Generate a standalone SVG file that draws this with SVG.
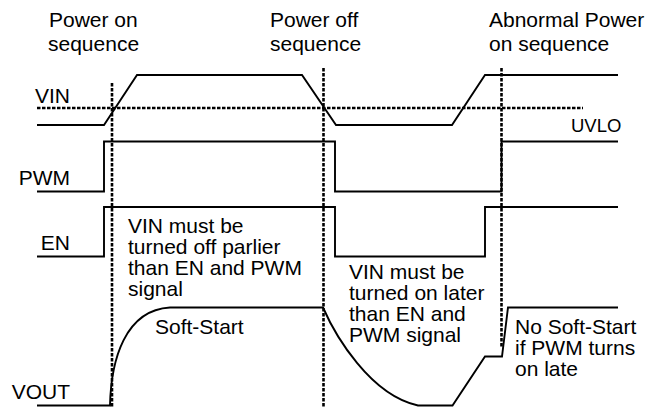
<svg xmlns="http://www.w3.org/2000/svg" width="661" height="407" viewBox="0 0 661 407">
<style>
text{font-family:"Liberation Sans",Arial,sans-serif;font-size:21px;fill:#000}
.w{fill:none;stroke:#000;stroke-width:1.9;stroke-linejoin:miter}
.d{fill:none;stroke:#000;stroke-width:2.6;stroke-dasharray:3.5,1.5}
</style>
<rect width="661" height="407" fill="#fff"/>
<g id="titles">
<text x="49" y="27">Power on</text>
<text x="48" y="51">sequence</text>
<text x="270" y="27">Power off</text>
<text x="270" y="51">sequence</text>
<text x="489" y="27">Abnormal Power</text>
<text x="489" y="51">on sequence</text>
</g>
<g id="guides">
<line class="d" x1="37" y1="108" x2="583" y2="108"/>
<line class="d" x1="112" y1="83" x2="112" y2="407"/>
<line class="d" x1="323.5" y1="68" x2="323.5" y2="407"/>
<line class="d" x1="501.5" y1="68" x2="501.5" y2="347"/>
</g>
<g id="vin">
<path class="w" d="M37,125 H104 L137,75 H302 L336,125 H452 L485,75 H618"/>
<text x="70" y="103" text-anchor="end">VIN</text>
<text x="571" y="132" style="font-size:18.5px">UVLO</text>
</g>
<g id="pwm">
<path class="w" d="M37,191.5 H104 V141.5 H335 V191.5 H501.5 V141.5 H618"/>
<text x="70" y="185" text-anchor="end">PWM</text>
</g>
<g id="en">
<path class="w" d="M37,256.5 H104 V207 H335 V256.5 H485 V207 H618"/>
<text x="70" y="250" text-anchor="end">EN</text>
</g>
<g id="vout">
<path class="w" d="M37,405.5 H110 C111,360 125,310 170,307.5 H323 C335,335 370,395 418,405.5 H452.5 L485,356.5 H502 L508,307.5 H618"/>
<text x="70" y="399" text-anchor="end">VOUT</text>
</g>
<g id="notes">
<text x="128" y="233">VIN must be</text>
<text x="128" y="254">turned off parlier</text>
<text x="128" y="275">than EN and PWM</text>
<text x="128" y="296">signal</text>
<text x="155" y="334">Soft-Start</text>
<text x="349" y="279">VIN must be</text>
<text x="349" y="300">turned on later</text>
<text x="349" y="321">than EN and</text>
<text x="349" y="342">PWM signal</text>
<text x="515" y="334">No Soft-Start</text>
<text x="515" y="355">if PWM turns</text>
<text x="515" y="376">on late</text>
</g>
</svg>
